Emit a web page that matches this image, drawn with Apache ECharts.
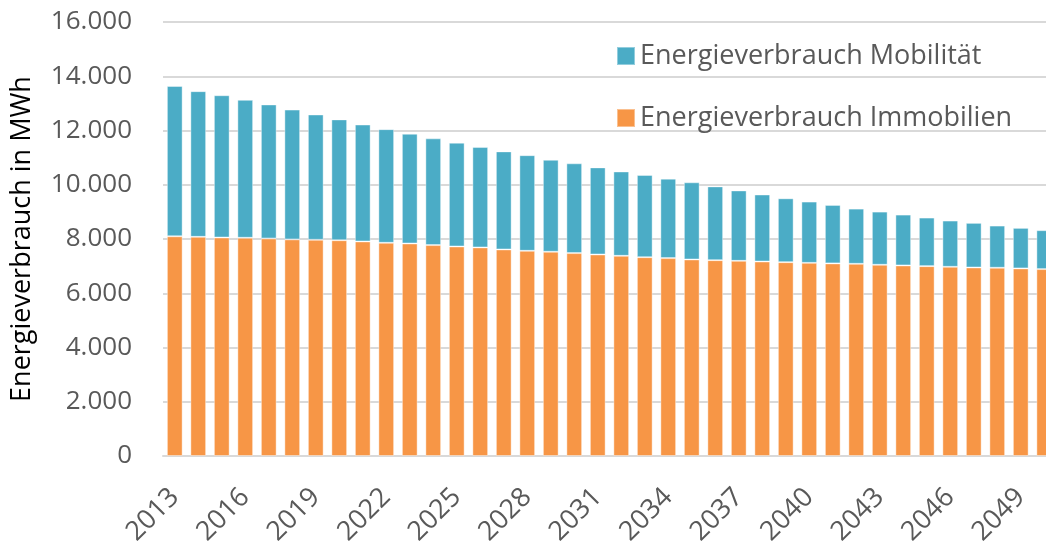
<!DOCTYPE html>
<html>
<head>
<meta charset="utf-8">
<script src="https://cdn.jsdelivr.net/npm/echarts@6/dist/echarts.min.js"></script>
<style>
  html, body { margin: 0; padding: 0; background: #fff; overflow: hidden; }
  #main { width: 1056px; height: 553px; }
</style>
</head>
<body>
<div id="main"></div>
<script>
// years 2013..2050
const years = ['2013', '2014', '2015', '2016', '2017', '2018', '2019', '2020', '2021', '2022',
  '2023', '2024', '2025', '2026', '2027', '2028', '2029', '2030', '2031', '2032',
  '2033', '2034', '2035', '2036', '2037', '2038', '2039', '2040', '2041', '2042',
  '2043', '2044', '2045', '2046', '2047', '2048', '2049', '2050']

const total = [13640, 13450, 13300, 13130, 12960, 12770, 12590, 12410, 12220, 12050,
  11880, 11710, 11550, 11390, 11230, 11090, 10920, 10790, 10640, 10490,
  10360, 10225, 10090, 9940, 9790, 9640, 9500, 9380, 9255, 9120,
  9010, 8900, 8790, 8680, 8595, 8495, 8410, 8325]

const immobilien = [8100, 8080, 8055, 8045, 8020, 7985, 7970, 7955, 7910, 7860,
  7835, 7775, 7725, 7690, 7615, 7565, 7530, 7480, 7430, 7380,
  7330, 7295, 7245, 7220, 7195, 7170, 7145, 7120, 7100, 7085,
  7050, 7025, 7000, 6975, 6950, 6940, 6915, 6890]

const mobilitaet = total.map((t, i) => t - immobilien[i])

const yTicks = [0, 2000, 4000, 6000, 8000, 10000, 12000, 14000, 16000]

const textColor = '#595959'
const font = 'Open Sans'

const chart = echarts.init(document.getElementById('main'))
chart.setOption({
  animation: false,
  textStyle: { fontFamily: font },
  grid: { left: 163, right: 0, top: 22, bottom: 97 },
  legend: {
    orient: 'vertical',
    left: 611,
    top: 37,
    itemWidth: 18,
    itemHeight: 18,
    itemGap: 34,
    icon: 'rect',
    data: ['Energieverbrauch Mobilität', 'Energieverbrauch Immobilien'],
    textStyle: { color: textColor, fontSize: 27, fontFamily: font, lineHeight: 28 }
  },
  xAxis: {
    type: 'category',
    data: years,
    axisLine: { lineStyle: { color: '#d9d9d9', width: 2 } },
    axisTick: { show: false },
    axisLabel: {
      interval: 2,
      rotate: 45,
      margin: 37,
      color: textColor,
      fontSize: 27,
      fontFamily: font
    }
  },
  yAxis: {
    type: 'value',
    min: 0,
    max: yTicks[yTicks.length - 1],
    interval: yTicks[1] - yTicks[0],
    name: 'Energieverbrauch in MWh',
    nameLocation: 'middle',
    nameGap: 127,
    nameTextStyle: { color: '#000', fontSize: 27, fontFamily: font },
    axisLine: { show: false },
    axisTick: { show: false },
    splitLine: { lineStyle: { color: '#d9d9d9', width: 2 } },
    axisLabel: {
      margin: 31,
      color: textColor,
      fontSize: 26,
      fontFamily: font,
      formatter: v => v.toLocaleString('de-DE')
    }
  },
  series: [
    {
      name: 'Energieverbrauch Immobilien',
      type: 'bar',
      stack: 'e',
      barCategoryGap: '33%',
      data: immobilien,
      itemStyle: { color: '#f79646', borderColor: 'rgba(255,255,255,0.4)', borderWidth: 1 }
    },
    {
      name: 'Energieverbrauch Mobilität',
      type: 'bar',
      stack: 'e',
      barCategoryGap: '33%',
      data: mobilitaet,
      itemStyle: { color: '#4bacc6', borderColor: 'rgba(255,255,255,0.4)', borderWidth: 1 }
    }
  ]
})
</script>
</body>
</html>
